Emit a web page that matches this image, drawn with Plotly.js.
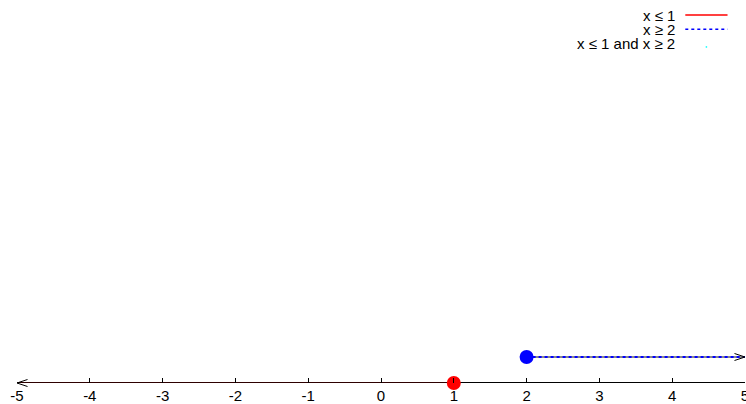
<!DOCTYPE html>
<html>
<head>
<meta charset="utf-8">
<script src="https://cdn.plot.ly/plotly-3.0.1.min.js"></script>
<style>html,body{margin:0;padding:0;background:#fff;}#chart{width:746px;height:404px;}</style>
</head>
<body>
<div id="chart"></div>
<script>
// Data
const tickVals = [-5, -4, -3, -2, -1, 0, 1, 2, 3, 4, 5];
const tickLabels = ["-5", "-4", "-3", "-2", "-1", "0", "1", "2", "3", "4", "5"];
const leX = [-5, 1];        // x ≤ 1 segment
const leY = [0, 0];
const geX = [2, 5];         // x ≥ 2 segment
const geY = [1, 1];
const seriesNames = ["x \u2264 1", "x \u2265 2", "x \u2264 1 and x \u2265 2"];
const endpointX = [1, 2];
const endpointY = [0, 1];
const endpointColors = ["#ff0000", "#0000ff"];

const FONT = "Liberation Sans, Arial, sans-serif";

const traces = [
  {x: leX, y: leY, mode: "lines", line: {color: "rgba(150,0,0,0.4)", width: 1.3}, cliponaxis: false, showlegend: false, hoverinfo: "skip"},
  {x: geX, y: geY, mode: "lines", line: {color: "#8a8a8a", width: 2}, cliponaxis: false, showlegend: false, hoverinfo: "skip"},
  {x: geX, y: geY, mode: "lines", line: {color: "#0000ff", width: 2, dash: "dot"}, cliponaxis: false, showlegend: false, hoverinfo: "skip"},
  {x: endpointX, y: endpointY, mode: "markers", marker: {color: endpointColors, size: 14, line: {width: 0}}, cliponaxis: false, showlegend: false, hoverinfo: "skip"}
];

// arrow heads (open V) drawn as annotation arrows anchored at the segment ends
function vHead(x, y, dir) {
  return [-4, 4].map(function (dy) {
    return {x: x, y: y, xref: "x", yref: "y", text: "", showarrow: true, arrowhead: 0,
            arrowwidth: 1, arrowcolor: "#000", ax: -dir * 12, ay: dy, standoff: 0};
  });
}

const legendRowsY = [0.9735, 0.936, 0.897];
const annotations = []
  .concat(vHead(leX[0], leY[0], -1))
  .concat(vHead(geX[1], geY[1], 1))
  .concat(seriesNames.map(function (n, i) {
    return {x: 0.906, y: legendRowsY[i], xref: "paper", yref: "paper", xanchor: "right", yanchor: "middle",
            text: n, showarrow: false, font: {family: FONT, size: 15, color: "#000"}};
  }));

const shapes = [
  // axis line at y = 0, under the traces
  {type: "line", layer: "below", xref: "paper", x0: 0, x1: 1, yref: "y", y0: 0, y1: 0, line: {color: "#000", width: 1.8}},
  {type: "line", xref: "paper", yref: "paper", x0: 0.918, x1: 0.976, y0: legendRowsY[0], y1: legendRowsY[0], line: {color: "#ff0000", width: 1.5}},
  {type: "line", xref: "paper", yref: "paper", x0: 0.918, x1: 0.976, y0: legendRowsY[1], y1: legendRowsY[1], line: {color: "#0000ff", width: 1.5, dash: "dot"}},
  {type: "line", xref: "paper", yref: "paper", x0: 0.946, x1: 0.948, y0: legendRowsY[2] - 0.008, y1: legendRowsY[2] - 0.008, line: {color: "#00ffff", width: 1.5}}
];

const layout = {
  width: 746, height: 404,
  margin: {l: 17, r: 1, t: 5, b: 21, pad: 0},
  paper_bgcolor: "#fff", plot_bgcolor: "#fff",
  showlegend: false,
  font: {family: FONT, size: 15, color: "#000"},
  xaxis: {
    range: [-5, 5], tickmode: "array", tickvals: tickVals, ticktext: tickLabels,
    ticks: "inside", ticklen: 5, tickwidth: 1, tickcolor: "#000",
    showline: false,
    showgrid: false, zeroline: false, ticklabeloverflow: "allow",
    ticklabelstandoff: 2,
    tickfont: {family: FONT, size: 15, color: "#000"},
    fixedrange: true
  },
  yaxis: {range: [0, 14.54], visible: false, showgrid: false, zeroline: false, fixedrange: true},
  annotations: annotations,
  shapes: shapes
};

Plotly.newPlot("chart", traces, layout, {staticPlot: true, displayModeBar: false});
</script>
</body>
</html>
